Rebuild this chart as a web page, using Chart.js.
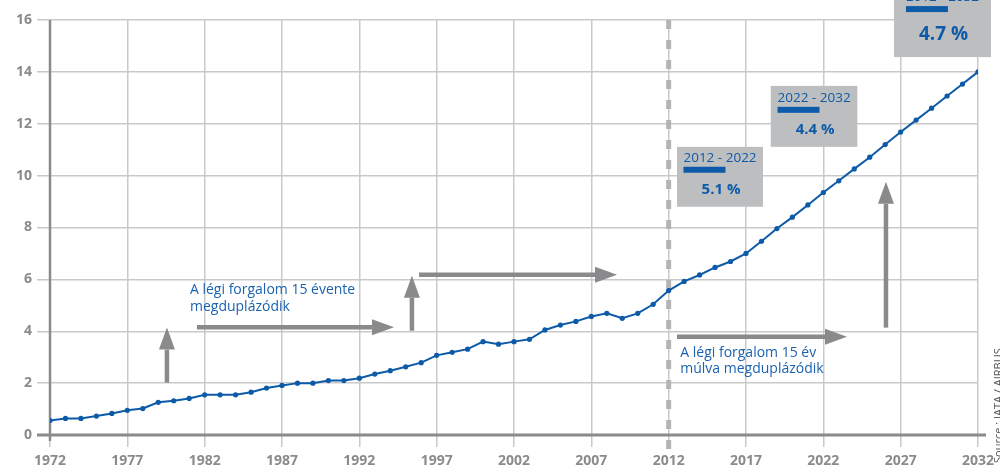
<!DOCTYPE html>
<html>
<head>
<meta charset="utf-8">
<script src="https://cdn.jsdelivr.net/npm/chart.js@4.4.0/dist/chart.umd.min.js"></script>
<style>
  html, body { margin: 0; background: #fff; }
  #wrap { width: 1000px; height: 473px; position: relative; }
</style>
</head>
<body>
<div id="wrap"><canvas id="chart"></canvas></div>
<script>
// DATA
const years = [
  1972, 1973, 1974, 1975, 1976, 1977, 1978, 1979, 1980, 1981,
  1982, 1983, 1984, 1985, 1986, 1987, 1988, 1989, 1990, 1991,
  1992, 1993, 1994, 1995, 1996, 1997, 1998, 1999, 2000, 2001,
  2002, 2003, 2004, 2005, 2006, 2007, 2008, 2009, 2010, 2011,
  2012, 2013, 2014, 2015, 2016, 2017, 2018, 2019, 2020, 2021,
  2022, 2023, 2024, 2025, 2026, 2027, 2028, 2029, 2030, 2031, 2032
];
const traffic = [
  0.56, 0.64, 0.64, 0.73, 0.83, 0.95, 1.02, 1.26, 1.32, 1.41,
  1.55, 1.55, 1.55, 1.65, 1.81, 1.91, 2.00, 2.00, 2.10, 2.10,
  2.19, 2.35, 2.48, 2.63, 2.79, 3.07, 3.19, 3.31, 3.60, 3.50,
  3.60, 3.69, 4.05, 4.24, 4.38, 4.57, 4.69, 4.50, 4.69, 5.04,
  5.57, 5.92, 6.17, 6.46, 6.69, 7.00, 7.47, 7.96, 8.40, 8.87,
  9.35, 9.80, 10.26, 10.71, 11.20, 11.68, 12.14, 12.60, 13.07, 13.53, 14.00
];
const xTicks = [1972, 1977, 1982, 1987, 1992, 1997, 2002, 2007, 2012, 2017, 2022, 2027, 2032];
const yTicks = [0, 2, 4, 6, 8, 10, 12, 14, 16];

const periods = ['2012 - 2022', '2022 - 2032', '2012 - 2032'];
const rates = ['5.1 %', '4.4 %', '4.7 %'];
const notes = [
  ['A légi forgalom 15 évente', 'megduplázódik'],
  ['A légi forgalom 15 év', 'múlva megduplázódik']
];
const source = 'Source : IATA / AIRBUS';
const forecastStart = 2012;

// annotation layout, in axis units (year, value)
const boxes = [
  { x0: 2012.54, x1: 2018.1, y0: 11.11, y1: 8.80, size: 15 },
  { x0: 2018.6, x1: 2024.2, y0: 13.46, y1: 11.11, size: 15 },
  { x0: 2026.57, x1: 2032.84, y0: 17.35, y1: 14.57, size: 19 }
];
const arrows = [
  [1979.56, 2.02, 1979.56, 4.14],
  [1981.5, 4.15, 1994.24, 4.15],
  [1995.4, 4.02, 1995.4, 6.14],
  [1995.86, 6.18, 2008.66, 6.18],
  [2012.54, 3.79, 2023.53, 3.79],
  [2026.05, 4.14, 2026.05, 9.76]
];
const notePos = [[1981.05, 5.85], [2012.75, 3.45]];

const BLUE = '#0d5ba8';
const GREY = '#8a8a8c';

function drawArrow(ctx, x1, y1, x2, y2) {
  const a = Math.atan2(y2 - y1, x2 - x1);
  const head = 22, half = 8;
  const bx = x2 - head * Math.cos(a), by = y2 - head * Math.sin(a);
  ctx.strokeStyle = GREY;
  ctx.lineWidth = 4.5;
  ctx.beginPath(); ctx.moveTo(x1, y1); ctx.lineTo(bx, by); ctx.stroke();
  ctx.fillStyle = GREY;
  ctx.beginPath();
  ctx.moveTo(x2, y2);
  ctx.lineTo(bx + half * Math.sin(a), by - half * Math.cos(a));
  ctx.lineTo(bx - half * Math.sin(a), by + half * Math.cos(a));
  ctx.closePath(); ctx.fill();
}

const overlay = {
  id: 'overlay',
  beforeDatasetsDraw(chart) {
    const { ctx, chartArea: a, scales: { x, y } } = chart;
    ctx.save();
    // axis lines
    ctx.strokeStyle = GREY;
    ctx.lineWidth = 3;
    ctx.beginPath(); ctx.moveTo(37, a.bottom); ctx.lineTo(986, a.bottom); ctx.stroke();
    ctx.lineWidth = 2.5;
    ctx.beginPath(); ctx.moveTo(a.left, a.top); ctx.lineTo(a.left, a.bottom + 6); ctx.stroke();
    // forecast divider
    const fx = x.getPixelForValue(forecastStart);
    ctx.strokeStyle = '#b3b4b6';
    ctx.lineWidth = 5;
    ctx.setLineDash([9, 11]);
    ctx.beginPath(); ctx.moveTo(fx, a.top); ctx.lineTo(fx, a.bottom + 17); ctx.stroke();
    ctx.restore();
  },
  afterDatasetsDraw(chart) {
    const { ctx, scales: { x, y } } = chart;
    ctx.save();
    arrows.forEach(([x1, y1, x2, y2]) =>
      drawArrow(ctx, x.getPixelForValue(x1), y.getPixelForValue(y1), x.getPixelForValue(x2), y.getPixelForValue(y2)));

    boxes.forEach((b, i) => {
      const l = x.getPixelForValue(b.x0), r = x.getPixelForValue(b.x1);
      const t = y.getPixelForValue(b.y0), btm = y.getPixelForValue(b.y1);
      ctx.fillStyle = '#bdbec0';
      ctx.fillRect(l, t, r - l, btm - t);
      const cx = (l + r) / 2;
      ctx.fillStyle = BLUE;
      ctx.textAlign = 'center';
      ctx.textBaseline = 'alphabetic';
      ctx.font = '13.5px "Open Sans"';
      const ty = btm - (b.size > 15 ? 56 : 45);
      ctx.fillText(periods[i], cx, ty);
      const tw = ctx.measureText(periods[i]).width;
      ctx.fillRect(cx - tw / 2, ty + 5, 42, 6);
      ctx.font = 'bold ' + b.size + 'px "Open Sans"';
      ctx.fillText(rates[i], cx + 1, btm - (b.size > 15 ? 17 : 13));
    });

    ctx.fillStyle = '#1a62b0';
    ctx.font = '14px "Open Sans"';
    ctx.textAlign = 'left';
    ctx.textBaseline = 'top';
    notes.forEach((lines, i) => {
      const px = x.getPixelForValue(notePos[i][0]), py = y.getPixelForValue(notePos[i][1]);
      lines.forEach((s, j) => ctx.fillText(s, px, py + j * 16.5));
    });

    ctx.fillStyle = '#555';
    ctx.font = '11px "Open Sans"';
    ctx.translate(999, 463);
    ctx.rotate(-Math.PI / 2);
    ctx.textBaseline = 'middle';
    ctx.fillText(source, 0, 0);
    ctx.restore();
  }
};

Chart.defaults.font.family = '"Open Sans", sans-serif';

new Chart(document.getElementById('chart'), {
  type: 'line',
  data: {
    datasets: [{
      data: years.map((yr, i) => ({ x: yr, y: traffic[i] })),
      borderColor: BLUE,
      backgroundColor: BLUE,
      borderWidth: 2,
      pointRadius: 2.6,
      pointBackgroundColor: BLUE,
      pointBorderWidth: 0,
      tension: 0
    }]
  },
  options: {
    responsive: true,
    maintainAspectRatio: false,
    animation: false,
    layout: { padding: { top: 20, right: 22, left: 0, bottom: 0 } },
    plugins: { legend: { display: false }, tooltip: { enabled: false } },
    scales: {
      x: {
        type: 'linear',
        min: 1972, max: 2032,
        afterBuildTicks: s => { s.ticks = xTicks.map(v => ({ value: v })); },
        afterFit: s => { s.height = 38; },
        grid: { color: '#c9c9c9', lineWidth: 1.5, tickLength: 12 },
        border: { display: false },
        ticks: { color: '#8b8b8b', font: { size: 14, weight: 'bold' }, padding: 6, maxRotation: 0, callback: v => String(v) }
      },
      y: {
        min: 0, max: 16,
        afterBuildTicks: s => { s.ticks = yTicks.map(v => ({ value: v })); },
        afterFit: s => { s.width = 50; },
        grid: { color: '#c9c9c9', lineWidth: 1.5, tickLength: 13 },
        border: { display: false },
        ticks: { color: '#8b8b8b', font: { size: 14, weight: 'bold' }, padding: 5 }
      }
    }
  },
  plugins: [overlay]
});
</script>
</body>
</html>
